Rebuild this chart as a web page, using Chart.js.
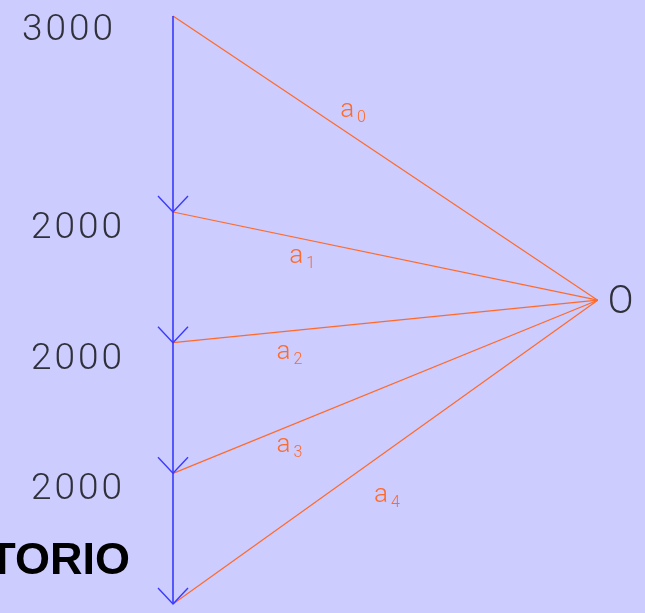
<!DOCTYPE html>
<html>
<head>
<meta charset="utf-8">
<script src="https://cdn.jsdelivr.net/npm/chart.js@4"></script>
<style>
  html, body { margin: 0; padding: 0; background: #ccccff; }
  #wrap { width: 645px; height: 613px; }
</style>
</head>
<body>
<div id="wrap"><canvas id="myChart"></canvas></div>
<script>
// loads on the force line, top to bottom
const loads = [3000, 2000, 2000, 2000];
const loadLabels = ['3000', '2000', '2000', '2000'];
// rays to the pole
const rayNames = ['0', '1', '2', '3', '4'];
const poleX = 6500;
const poleY = 4350;
const poleLabel = 'O';
const bottomText = 'TERRITORIO';

const BLUE = '#3a3aff';
const ORANGE = '#ff6a2a';
const THIN = '"Roboto Light", "Open Sans Light", Roboto';

// cumulative positions along the load line
const cum = [0];
loads.forEach((l) => cum.push(cum[cum.length - 1] + l));

const datasets = [
  {
    data: [{ x: 0, y: 0 }, { x: 0, y: cum[cum.length - 1] }],
    borderColor: BLUE,
    borderWidth: 1.6,
  },
];
cum.forEach((c) => {
  datasets.push({
    data: [{ x: 0, y: c }, { x: poleX, y: poleY }],
    borderColor: ORANGE,
    borderWidth: 1.2,
  });
});

// where the ray labels sit: fraction along the ray + pixel offset
const rayLabelPos = [
  { t: 0.41, dy: -23 },
  { t: 0.29, dy: 18 },
  { t: 0.26, dy: 20 },
  { t: 0.26, dy: 16 },
  { t: 0.49, dy: 39 },
];

const drawExtras = {
  id: 'drawExtras',
  afterDatasetsDraw(chart) {
    const { ctx, scales } = chart;
    const xs = scales.x, ys = scales.y;
    const ax = xs.getPixelForValue(0);
    ctx.save();

    // arrow heads
    ctx.strokeStyle = BLUE;
    ctx.lineWidth = 1.4;
    cum.slice(1).forEach((c) => {
      const py = ys.getPixelForValue(c);
      ctx.beginPath();
      ctx.moveTo(ax - 15, py - 16);
      ctx.lineTo(ax, py);
      ctx.lineTo(ax + 15, py - 16);
      ctx.stroke();
    });

    // load values
    ctx.fillStyle = '#30303a';
    ctx.font = '300 37px ' + THIN;
    ctx.letterSpacing = '3px';
    ctx.textAlign = 'right';
    ctx.textBaseline = 'middle';
    loadLabels.forEach((lab, i) => {
      const py = ys.getPixelForValue(cum[i]);
      const dx = i === 0 ? -57 : -48;
      const dy = i === 0 ? 13 : 15;
      ctx.fillText(lab, ax + dx, py + dy);
    });

    // pole
    const px = xs.getPixelForValue(poleX);
    const ppy = ys.getPixelForValue(poleY);
    ctx.textAlign = 'left';
    ctx.letterSpacing = '0px';
    ctx.font = '300 38px ' + THIN;
    ctx.fillText(poleLabel, px + 10, ppy + 2);

    // ray labels
    ctx.fillStyle = ORANGE;
    rayNames.forEach((n, i) => {
      const p = rayLabelPos[i];
      const y0 = ys.getPixelForValue(cum[i]);
      const lx = ax + (px - ax) * p.t;
      const ly = y0 + (ppy - y0) * p.t + p.dy;
      ctx.font = '300 26px ' + THIN;
      ctx.textAlign = 'center';
      ctx.fillText('a', lx, ly);
      ctx.font = '300 16px ' + THIN;
      ctx.textAlign = 'left';
      ctx.fillText(n, lx + 10, ly + 8);
    });

    // cut-off title
    ctx.fillStyle = '#000';
    ctx.font = 'bold 45px "Liberation Sans"';
    ctx.textAlign = 'right';
    ctx.fillText(bottomText, 130, 562);
    ctx.restore();
  },
};

const k = 588 / cum[cum.length - 1]; // px per unit
new Chart(document.getElementById('myChart'), {
  type: 'line',
  data: { datasets },
  options: {
    responsive: true,
    maintainAspectRatio: false,
    animation: false,
    layout: { padding: 0 },
    elements: { point: { radius: 0 } },
    plugins: { legend: { display: false }, tooltip: { enabled: false } },
    scales: {
      x: { type: 'linear', display: false, min: -173 / k, max: (645 - 173) / k },
      y: { type: 'linear', display: false, reverse: true, min: -16 / k, max: (613 - 16) / k },
    },
  },
  plugins: [drawExtras],
});
</script>
</body>
</html>
